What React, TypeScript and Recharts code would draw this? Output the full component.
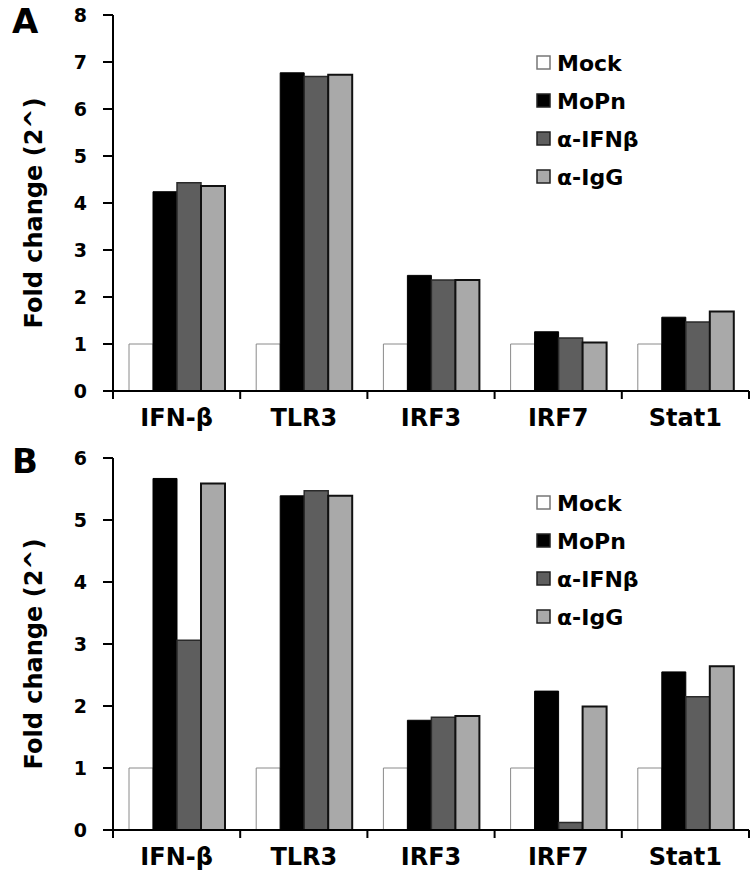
import React from 'react';
import { BarChart, Bar, XAxis, YAxis, Legend } from 'recharts';

const categories = ['IFN-β', 'TLR3', 'IRF3', 'IRF7', 'Stat1'];
const seriesNames = ['Mock', 'MoPn', 'α-IFNβ', 'α-IgG'];

// panel A
const mockA = [1, 1, 1, 1, 1];
const mopnA = [4.24, 6.77, 2.46, 1.26, 1.57];
const ifnbA = [4.43, 6.69, 2.36, 1.13, 1.47];
const iggA = [4.36, 6.73, 2.36, 1.03, 1.69];
const ticksA = [0, 1, 2, 3, 4, 5, 6, 7, 8];

// panel B
const mockB = [1, 1, 1, 1, 1];
const mopnB = [5.67, 5.39, 1.77, 2.24, 2.55];
const ifnbB = [3.06, 5.47, 1.82, 0.12, 2.15];
const iggB = [5.59, 5.39, 1.84, 1.99, 2.64];
const ticksB = [0, 1, 2, 3, 4, 5, 6];

const seriesStyle = [
  { fill: '#ffffff', stroke: '#8a8a8a', strokeWidth: 1 },
  { fill: '#000000', stroke: '#000000', strokeWidth: 1 },
  { fill: '#5e5e5e', stroke: '#2a2a2a', strokeWidth: 1.5 },
  { fill: '#a9a9a9', stroke: '#111111', strokeWidth: 2 },
];

const textFont = '"DejaVu Sans", sans-serif';

const buildRows = (m: number[], p: number[], f: number[], g: number[]) =>
  categories.map((c, i) => ({ name: c, Mock: m[i], MoPn: p[i], 'α-IFNβ': f[i], 'α-IgG': g[i] }));

const CatTick = (props: any) => {
  const { x, y, payload, index, visibleTicksCount, width } = props;
  const half = payload && payload.offset ? payload.offset : width / visibleTicksCount / 2;
  const last = index === visibleTicksCount - 1;
  return (
    <g>
      <line x1={x - half} x2={x - half} y1={y} y2={y + 8} stroke="#000" strokeWidth={2} />
      {last && <line x1={x + half} x2={x + half} y1={y} y2={y + 8} stroke="#000" strokeWidth={2} />}
      <text x={x} y={y + 35} textAnchor="middle" fontFamily={textFont} fontWeight="bold" fontSize={24} fill="#000">
        {payload.value}
      </text>
    </g>
  );
};

const NumTick = (props: any) => {
  const { x, y, payload } = props;
  return (
    <text x={x + 2} y={y + 7} textAnchor="end" fontFamily={textFont} fontWeight="bold" fontSize={19} fill="#000">
      {payload.value}
    </text>
  );
};

const LegendBox = () => (
  <div style={{ fontFamily: textFont, fontWeight: 'bold', fontSize: 22, color: '#000' }}>
    {seriesNames.map((s, i) => (
      <div key={s} style={{ display: 'flex', alignItems: 'center', height: 38 }}>
        <svg width={16} height={16} style={{ marginRight: 5 }}>
          <rect x={1} y={1} width={13} height={13} fill={seriesStyle[i].fill}
            stroke={i === 0 ? '#777' : '#222'} strokeWidth={1.5} />
        </svg>
        <span>{s}</span>
      </div>
    ))}
  </div>
);

interface PanelProps {
  letter: string;
  rows: any[];
  ticks: number[];
  height: number;
  top: number;
  bottom: number;
}

const Panel: React.FC<PanelProps> = ({ letter, rows, ticks, height, top, bottom }) => (
  <div style={{ position: 'relative', width: 755, height }}>
    <div style={{ position: 'absolute', left: 12, top: 4, lineHeight: 1, fontFamily: textFont, fontWeight: 'bold', fontSize: 34 }}>
      {letter}
    </div>
    <BarChart width={755} height={height} data={rows}
      margin={{ top, right: 6, bottom: bottom - 40, left: 63 }}
      barCategoryGap={16} barGap={0}>
      <XAxis dataKey="name" height={40} axisLine={{ stroke: '#000', strokeWidth: 2 }}
        tickLine={false} tickSize={0} tickMargin={0} interval={0} tick={<CatTick />} />
      <YAxis width={50} domain={[0, ticks[ticks.length - 1]]} ticks={ticks} interval={0}
        axisLine={{ stroke: '#000', strokeWidth: 2 }} tickLine={{ stroke: '#000', strokeWidth: 2 }}
        tickSize={10} tickMargin={18} tick={<NumTick />}
        label={({ viewBox }: any) => {
          const cy = viewBox.y + viewBox.height / 2 + 10;
          return (
            <text x={42} y={cy} transform={`rotate(-90 42 ${cy})`} textAnchor="middle"
              fontFamily={textFont} fontWeight="bold" fontSize={24} fill="#000">
              Fold change (2^)
            </text>
          );
        }} />
      <Legend layout="horizontal" verticalAlign="middle" align="center" content={<LegendBox />}
        wrapperStyle={{ left: 536, top: 44, width: 160 }} />
      {seriesNames.map((s, i) => (
        <Bar key={s} dataKey={s} fill={seriesStyle[i].fill} stroke={seriesStyle[i].stroke}
          strokeWidth={seriesStyle[i].strokeWidth} isAnimationActive={false} />
      ))}
    </BarChart>
  </div>
);

const App: React.FC = () => (
  <div style={{ position: 'absolute', left: 0, top: 0, width: 755, height: 878, background: '#fff' }}>
    <Panel letter="A" rows={buildRows(mockA, mopnA, ifnbA, iggA)} ticks={ticksA} height={440} top={15} bottom={49} />
    <Panel letter="B" rows={buildRows(mockB, mopnB, ifnbB, iggB)} ticks={ticksB} height={438} top={18} bottom={48} />
  </div>
);

export default App;
